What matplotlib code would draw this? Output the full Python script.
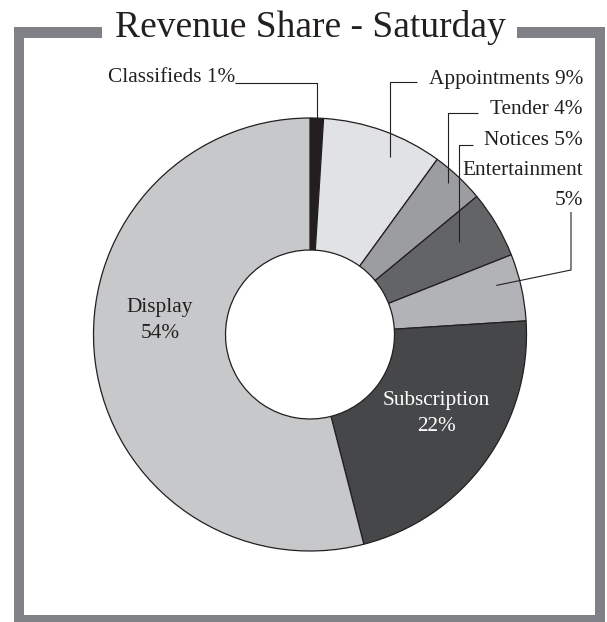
import numpy as np
import matplotlib.pyplot as plt
from matplotlib.patches import Rectangle

# ─── Data ─────────────────────────────────────────────
categories = ["Classifieds", "Appointments", "Tender", "Notices",
              "Entertainment", "Subscription", "Display"]
shares = [1, 9, 4, 5, 5, 22, 54]
colors = ["#231f20", "#e1e2e4", "#9c9da0", "#636466",
          "#b2b3b6", "#464749", "#c7c8ca"]
title = "Revenue Share - Saturday"

W, H = 607, 622
FONT = "Liberation Serif"
EDGE = "#231f20"
FRAME = "#808186"


def Y(y):
    # pixel row (top-down) -> data y
    return H - y


fig = plt.figure(figsize=(W / 100, H / 100), dpi=100)
ax = fig.add_axes([0, 0, 1, 1])

cx, cy, R, R_in = 310, Y(334.5), 216.5, 84.5
wedges, _ = ax.pie(shares, colors=colors, startangle=90, counterclock=False,
                   center=(cx, cy), radius=R, frame=True,
                   wedgeprops=dict(width=R - R_in, edgecolor=EDGE, linewidth=0.9))
ax.set_xlim(0, W)
ax.set_ylim(0, H)
ax.set_aspect("auto")
ax.axis("off")


def anchor(i, frac, rfrac):
    w = wedges[i]
    ang = np.deg2rad(w.theta2 - frac * (w.theta2 - w.theta1))
    return cx + rfrac * R * np.cos(ang), cy + rfrac * R * np.sin(ang)


# ─── Frame around the chart ───────────────────────────
for x0, y0, x1, y1 in [(14, 27, 24, 622), (595, 27, 605, 622),
                       (14, 27, 102, 38), (517, 27, 605, 38),
                       (14, 615, 605, 622)]:
    ax.add_patch(Rectangle((x0, Y(y1)), x1 - x0, y1 - y0, color=FRAME, lw=0, zorder=5))

ax.text(310, Y(37), title, ha="center", va="baseline", fontsize=27,
        family=FONT, color="#231f20")

# ─── Outside labels with leader lines ────────────────
lkw = dict(color=EDGE, lw=0.8, solid_capstyle="butt", zorder=4)
tkw = dict(fontsize=15.3, family=FONT, color="#231f20", va="baseline")

# Classifieds (text on the left, line to the right)
ax.text(235, Y(82), f"{categories[0]} {shares[0]}%", ha="right", **tkw)
ax_, ay_ = anchor(0, 0.5, 1.0)
ax.plot([235, ax_, ax_], [Y(83), Y(83), ay_], **lkw)

# right side labels: (index, baseline, line y, line end x, frac, rfrac)
right = [(1, 84, 82, 417, 0.64, 0.90),
         (2, 114, 113, 478, 0.44, 0.947),
         (3, 145, 145, 473, 0.44, 0.81)]
for i, base, ly, lx, frac, rf in right:
    ax.text(583, Y(base), f"{categories[i]} {shares[i]}%", ha="right", **tkw)
    px, py = anchor(i, frac, rf)
    ax.plot([lx, px, px], [Y(ly), Y(ly), py], **lkw)

# Entertainment (two lines)
ax.text(583, Y(175), categories[4], ha="right", **tkw)
ax.text(583, Y(205), f"{shares[4]}%", ha="right", **tkw)
px, py = anchor(4, 0.38, 0.89)
ax.plot([571, 571, px], [Y(212), Y(270), py], **lkw)

# ─── Inside labels ────────────────────────────────────
ax.text(160, Y(312), categories[6], ha="center", **tkw)
ax.text(160, Y(338), f"{shares[6]}%", ha="center", **tkw)
ikw = dict(tkw, color="white")
ax.text(436.5, Y(405), categories[5], ha="center", **ikw)
ax.text(436.5, Y(431), f"{shares[5]}%", ha="center", **ikw)

fig.savefig("out.png", dpi=100, facecolor="white")
